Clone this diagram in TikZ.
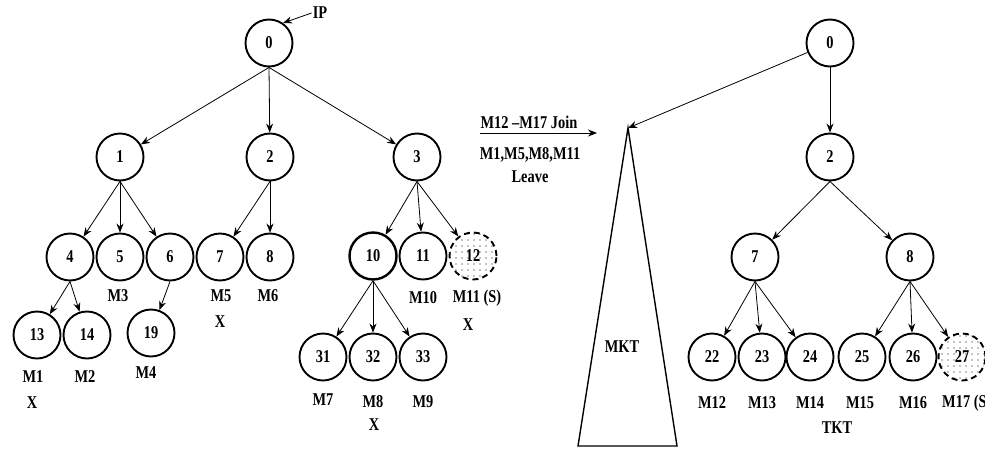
\documentclass[tikz,border=0pt]{standalone}
\usepackage{fontspec}
\setmainfont[FakeStretch=0.8]{Liberation Serif}
\usetikzlibrary{arrows.meta,patterns.meta}
\begin{document}
\begin{tikzpicture}[x=1pt,y=-1pt,
  every node/.style={font=\bfseries\fontsize{18}{18}\selectfont},
  nd/.style={circle,draw,line width=1.9pt,minimum size=47pt,inner sep=0pt},
  dnd/.style={nd,dash pattern=on 6pt off 4pt,pattern={Dots[distance=6pt,radius=0.7pt]}},
  lab/.style={inner sep=1pt},
  arr/.style={-{Stealth[length=9pt,width=7pt]},line width=0.8pt}]
\useasboundingbox (0,0) rectangle (985,450);
% left tree
\node[nd] (a0) at (269,43) {0};
\node[nd] (a1) at (120,157) {1};
\node[nd] (a2) at (270,157) {2};
\node[nd] (a3) at (417,157) {3};
\node[nd] (a4) at (70,257) {4};
\node[nd] (a5) at (120,257) {5};
\node[nd] (a6) at (170,257) {6};
\node[nd] (a7) at (220,257) {7};
\node[nd] (a8) at (270,257) {8};
\node[nd,line width=2.4pt] (a10) at (373,256) {10};
\node[nd] (a11) at (423,256) {11};
\node[dnd] (a12) at (473,256) {12};
\node[nd] (a13) at (37,335) {13};
\node[nd] (a14) at (87,335) {14};
\node[nd] (a19) at (151,333) {19};
\node[nd] (a31) at (323,357) {31};
\node[nd] (a32) at (373,357) {32};
\node[nd] (a33) at (423,357) {33};
\node[lab] (ip) at (320,13) {IP};
\draw[arr] (ip.west) -- (a0.55);
\foreach \p/\c in {a0/a1,a0/a2,a0/a3,a1/a4,a1/a5,a1/a6,a2/a7,a2/a8,a3/a10,a3/a11,a3/a12,a4/a13,a4/a14,a6/a19,a10/a31,a10/a32,a10/a33}
  \draw[arr] (\p.south) -- (\c);
\node[lab] (m3) at (118,296) {M3};
\node[lab] (m5) at (221,296) {M5};
\node[lab] (x5) at (220,322) {X};
\node[lab] (m6) at (268,296) {M6};
\node[lab] (m1) at (33,377) {M1};
\node[lab] (x1) at (32,403) {X};
\node[lab] (m2) at (85,377) {M2};
\node[lab] (m4) at (146,373) {M4};
\node[lab] (m10) at (423,298) {M10};
\node[lab] (m11) at (477,298) {M11 (S)};
\node[lab] (x11) at (468,325) {X};
\node[lab] (m7) at (323,400) {M7};
\node[lab] (m8) at (373,402) {M8};
\node[lab] (x8) at (374,425) {X};
\node[lab] (m9) at (423,402) {M9};
% middle
\coordinate (js) at (480,133);
\coordinate (je) at (597,133);
\draw[arr] (js) -- (je);
\node[lab] (join) at (529,122) {M12 –M17 Join};
\node[lab] (lv1) at (530,155) {M1,M5,M8,M11};
\node[lab] (lv2) at (530,177) {Leave};
% MKT triangle
\coordinate (apex) at (628,128);
\coordinate (bl) at (578,446);
\coordinate (br) at (677,446);
\draw[line width=1.4pt,line join=miter] (apex) -- (bl) -- (br) -- cycle;
\node[lab] (mkt) at (622,347) {MKT};
% right tree
\node[nd] (b0) at (830,43) {0};
\node[nd] (b2) at (830,157) {2};
\node[nd] (b7) at (755,257) {7};
\node[nd] (b8) at (910,257) {8};
\node[nd] (b22) at (712,357) {22};
\node[nd] (b23) at (762,357) {23};
\node[nd] (b24) at (810,357) {24};
\node[nd] (b25) at (862,357) {25};
\node[nd] (b26) at (913,357) {26};
\node[dnd] (b27) at (962,357) {27};
\draw[arr] (b0) -- (apex);
\foreach \p/\c in {b0/b2,b2/b7,b2/b8,b7/b22,b7/b23,b7/b24,b8/b25,b8/b26,b8/b27}
  \draw[arr] (\p.south) -- (\c);
\node[lab] (m12) at (712,403) {M12};
\node[lab] (m13) at (762,403) {M13};
\node[lab] (m14) at (810,403) {M14};
\node[lab] (m15) at (860,403) {M15};
\node[lab] (m16) at (913,403) {M16};
\node[lab,anchor=west] (m17) at (941,403) {M17 (S)};
\node[lab] (tkt) at (837,428) {TKT};
\end{tikzpicture}
\end{document}
